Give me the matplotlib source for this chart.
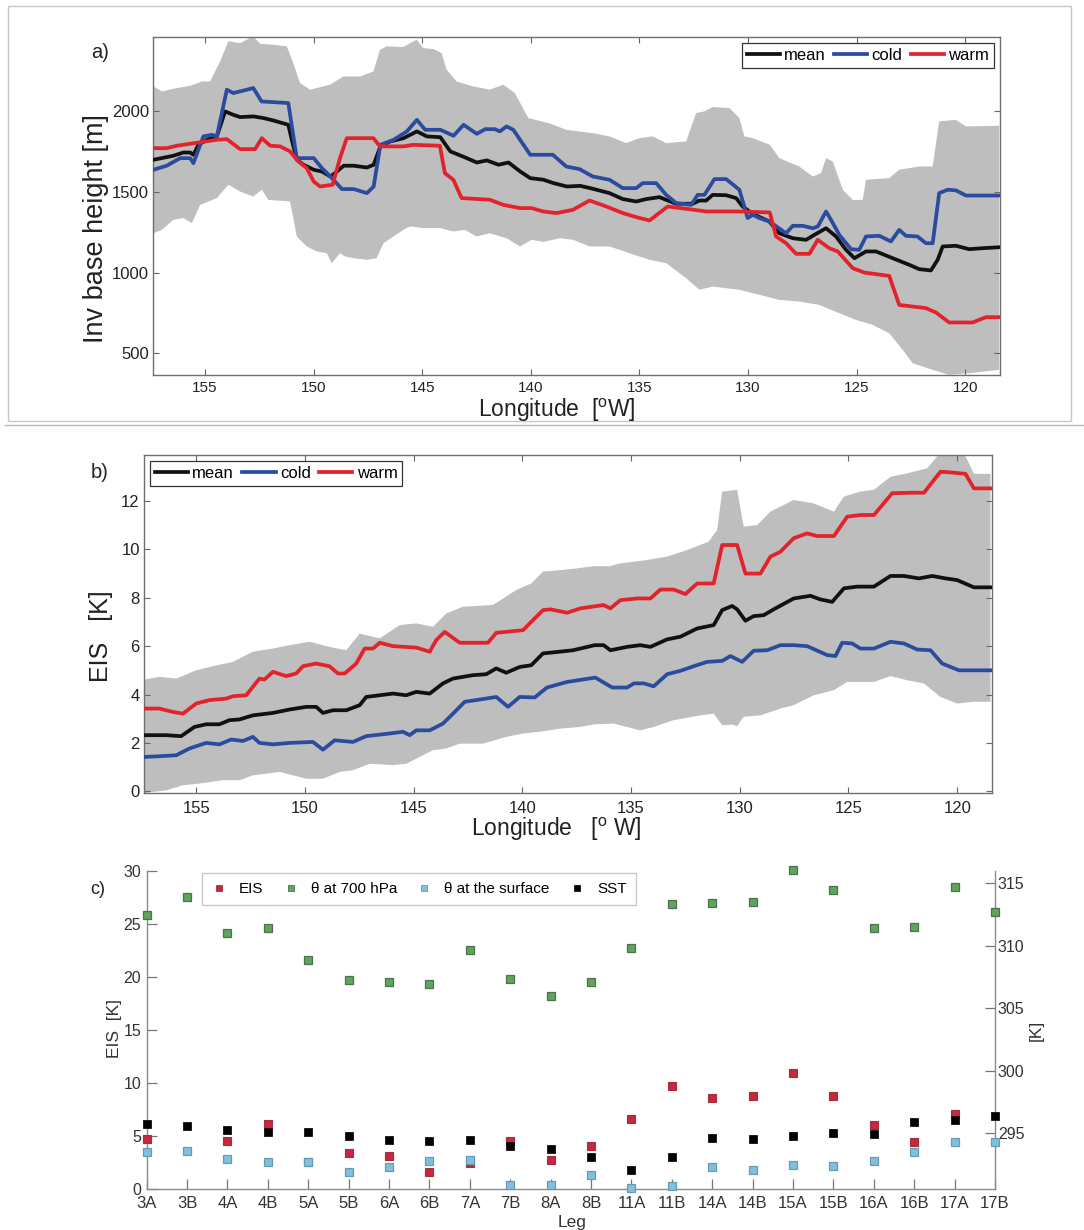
import numpy as np
import matplotlib
matplotlib.use('Agg')
import matplotlib.pyplot as plt
from matplotlib.patches import Rectangle
from matplotlib.lines import Line2D

plt.rcParams['font.family'] = ['Liberation Sans', 'DejaVu Sans']
plt.rcParams['mathtext.fontset'] = 'custom'
plt.rcParams['mathtext.rm'] = 'Liberation Sans'
plt.rcParams['mathtext.it'] = 'Liberation Sans:italic'
plt.rcParams['mathtext.bf'] = 'Liberation Sans:bold'

# ---------------- Panel a: inversion base height [m] ----------------
a_mean_lon = [157.38, 156.46, 156.00, 155.69, 155.54, 155.31, 154.92, 154.46, 154.08, 153.70,
              153.39, 152.78, 152.32, 151.86, 151.17, 151.01, 150.78, 150.47, 150.00, 149.62,
              149.23, 148.93, 148.62, 148.16, 147.55, 147.24, 146.93, 146.47, 145.86, 145.25,
              144.79, 144.17, 143.71, 142.95, 142.49, 142.03, 141.49, 141.03, 140.49, 140.03,
              139.42, 138.96, 138.34, 137.73, 137.27, 136.38, 135.77, 135.15, 134.69, 134.08,
              133.77, 133.31, 132.55, 132.24, 131.93, 131.63, 131.01, 130.55, 130.25, 129.79,
              129.02, 128.56, 127.94, 127.33, 126.87, 126.41, 125.95, 125.49, 125.10, 124.57,
              124.11, 123.34, 122.58, 122.12, 121.58, 121.27, 121.04, 120.43, 119.82, 119.20,
              118.44]
a_mean = [1700, 1725, 1745, 1745, 1731, 1793, 1824, 1845, 2000, 1979,
          1965, 1969, 1959, 1944, 1917, 1824, 1700, 1669, 1638, 1627,
          1596, 1627, 1663, 1663, 1652, 1669, 1783, 1814, 1834, 1876,
          1845, 1840, 1752, 1710, 1683, 1696, 1669, 1683, 1627, 1586,
          1576, 1555, 1534, 1538, 1524, 1493, 1456, 1441, 1456, 1468,
          1451, 1427, 1427, 1447, 1447, 1482, 1480, 1462, 1410, 1364,
          1317, 1244, 1213, 1203, 1240, 1275, 1224, 1141, 1089, 1131,
          1131, 1089, 1048, 1021, 1013, 1079, 1162, 1166, 1145, 1151,
          1157]

a_cold_lon = [157.38, 156.77, 156.15, 155.69, 155.54, 155.08, 154.69, 154.46, 154.00, 153.70,
              152.78, 152.40, 151.17, 150.78, 150.32, 150.00, 149.62, 149.23, 148.70, 148.16,
              147.55, 147.24, 146.93, 146.32, 145.71, 145.25, 144.87, 144.17, 143.56, 143.10,
              142.49, 142.10, 141.66, 141.43, 141.12, 140.81, 140.03, 138.99, 138.37, 137.76,
              137.15, 136.38, 135.77, 135.15, 134.85, 134.23, 133.77, 133.31, 132.62, 132.32,
              132.01, 131.55, 131.01, 130.40, 130.02, 129.79, 129.48, 129.02, 128.25, 127.94,
              127.48, 127.02, 126.79, 126.41, 126.18, 125.80, 125.26, 124.88, 124.57, 123.96,
              123.42, 123.04, 122.73, 122.20, 121.81, 121.50, 121.20, 120.81, 120.43, 119.97,
              118.44]
a_cold = [1638, 1663, 1710, 1710, 1679, 1845, 1855, 1845, 2135, 2114,
          2145, 2062, 2052, 1710, 1710, 1710, 1648, 1596, 1518, 1518,
          1493, 1534, 1793, 1824, 1876, 1948, 1886, 1886, 1849, 1917,
          1861, 1890, 1890, 1876, 1907, 1886, 1731, 1731, 1658, 1642,
          1596, 1576, 1524, 1524, 1555, 1555, 1482, 1431, 1420, 1482,
          1482, 1580, 1580, 1514, 1338, 1358, 1338, 1317, 1244, 1290,
          1290, 1275, 1286, 1379, 1327, 1234, 1145, 1141, 1224, 1228,
          1193, 1265, 1228, 1224, 1182, 1182, 1493, 1514, 1510, 1478,
          1478]

a_warm_lon = [157.38, 156.77, 156.30, 155.31, 154.46, 154.00, 153.39, 152.70, 152.39, 152.00,
              151.55, 151.09, 150.71, 150.32, 150.00, 149.71, 149.13, 148.79, 148.48, 147.25,
              146.95, 145.87, 145.41, 144.19, 143.96, 143.57, 143.19, 141.89, 141.27, 140.50,
              139.97, 139.43, 138.83, 138.07, 137.30, 136.53, 135.77, 135.15, 134.54, 133.70,
              132.70, 131.93, 130.40, 129.00, 128.71, 128.25, 127.79, 127.18, 126.79, 126.26,
              125.87, 125.18, 124.65, 123.50, 123.04, 121.81, 121.35, 120.74, 119.66, 119.05,
              118.44]
a_warm = [1772, 1772, 1787, 1807, 1824, 1828, 1766, 1766, 1834, 1787,
          1783, 1752, 1690, 1648, 1565, 1534, 1545, 1710, 1834, 1834,
          1783, 1783, 1793, 1787, 1617, 1576, 1462, 1452, 1420, 1400,
          1400, 1379, 1369, 1389, 1447, 1410, 1369, 1344, 1323, 1410,
          1393, 1379, 1379, 1373, 1224, 1182, 1116, 1116, 1203, 1151,
          1131, 1027, 1000, 979, 799, 779, 752, 690, 690, 723,
          723]

a_hi_lon = [157.38, 156.99, 156.30, 155.69, 155.15, 154.77, 154.31, 153.93, 153.39, 153.08,
            152.78, 152.47, 151.86, 151.24, 150.94, 150.63, 150.17, 149.25, 148.63, 147.86,
            147.25, 146.95, 146.64, 145.87, 145.26, 144.95, 144.49, 144.11, 143.88, 143.42,
            142.65, 141.89, 141.27, 140.74, 140.12, 139.13, 138.37, 137.15, 136.38, 135.61,
            135.00, 134.39, 133.77, 132.85, 132.39, 132.01, 131.63, 130.86, 130.40, 130.17,
            129.79, 129.00, 128.56, 127.64, 127.02, 126.64, 126.41, 126.10, 125.64, 125.18,
            124.72, 124.57, 123.50, 123.04, 122.58, 122.12, 121.50, 121.20, 120.43, 119.97,
            118.44]
a_hi = [2155, 2124, 2145, 2159, 2186, 2186, 2310, 2435, 2424, 2445,
        2466, 2420, 2414, 2404, 2300, 2176, 2135, 2166, 2217, 2217,
        2248, 2383, 2404, 2400, 2445, 2393, 2387, 2362, 2259, 2186,
        2155, 2135, 2166, 2114, 1959, 1925, 1886, 1865, 1845, 1803,
        1834, 1845, 1803, 1814, 1990, 2000, 2027, 2021, 1959, 1845,
        1834, 1793, 1710, 1658, 1596, 1617, 1710, 1690, 1514, 1451,
        1451, 1576, 1586, 1638, 1648, 1658, 1658, 1938, 1948, 1907,
        1911]

a_lo_lon = [157.38, 156.99, 156.46, 156.00, 155.61, 155.23, 154.46, 153.93, 153.39, 152.78,
            152.39, 152.09, 151.09, 150.94, 150.78, 150.32, 149.86, 149.40, 149.17, 148.79,
            148.56, 148.17, 147.56, 147.10, 146.79, 145.87, 145.57, 144.95, 144.19, 143.57,
            143.04, 142.50, 141.89, 141.12, 140.50, 139.97, 139.43, 138.67, 138.05, 137.30,
            136.38, 135.46, 134.54, 133.77, 132.85, 132.24, 131.63, 130.40, 129.48, 128.56,
            127.64, 126.72, 125.80, 125.03, 124.26, 123.50, 122.88, 122.42, 121.50, 120.74,
            119.82, 118.44]
a_lo = [1244, 1265, 1327, 1338, 1307, 1420, 1462, 1545, 1503, 1472,
        1514, 1451, 1441, 1338, 1224, 1162, 1131, 1120, 1058, 1120,
        1100, 1089, 1079, 1089, 1182, 1265, 1286, 1276, 1276, 1255,
        1265, 1224, 1244, 1213, 1162, 1203, 1190, 1213, 1203, 1162,
        1162, 1120, 1079, 1058, 965, 893, 913, 893, 862, 830,
        820, 799, 748, 706, 675, 623, 520, 437, 396, 365,
        375, 396]

# ---------------- Panel b: EIS [K] ----------------
b_mean_lon = [157.38, 156.38, 155.69, 155.08, 154.54, 153.93, 153.47, 153.01, 152.39, 151.47,
              150.71, 149.94, 149.48, 149.17, 148.71, 148.10, 147.48, 147.18, 146.56, 145.95,
              145.34, 144.88, 144.26, 143.65, 143.19, 142.27, 141.66, 141.20, 140.74, 140.12,
              139.59, 139.05, 138.28, 137.67, 136.67, 136.26, 135.95, 135.18, 134.57, 134.11,
              133.34, 132.73, 131.96, 131.20, 130.81, 130.35, 130.12, 129.74, 129.36, 128.90,
              128.44, 127.52, 126.75, 126.29, 125.75, 125.21, 124.60, 123.83, 123.07, 122.45,
              121.76, 121.15, 120.54, 120.00, 119.23, 118.47]
b_mean = [2.32, 2.32, 2.28, 2.66, 2.77, 2.77, 2.94, 2.97, 3.14, 3.24,
          3.38, 3.49, 3.49, 3.24, 3.35, 3.35, 3.56, 3.90, 3.97, 4.04,
          3.97, 4.11, 4.04, 4.46, 4.66, 4.80, 4.84, 5.08, 4.90, 5.14,
          5.21, 5.70, 5.77, 5.83, 6.04, 6.04, 5.83, 5.97, 6.04, 5.97,
          6.28, 6.39, 6.73, 6.87, 7.49, 7.66, 7.52, 7.05, 7.24, 7.28,
          7.52, 7.97, 8.08, 7.93, 7.83, 8.39, 8.46, 8.46, 8.90, 8.90,
          8.80, 8.90, 8.80, 8.73, 8.43, 8.43]

b_cold_lon = [157.38, 156.69, 155.92, 155.31, 154.54, 153.93, 153.39, 152.85, 152.39, 152.09,
              151.47, 150.71, 149.63, 149.17, 148.63, 147.79, 147.18, 146.10, 145.49, 145.18,
              144.88, 144.26, 143.65, 143.11, 142.65, 142.12, 141.20, 140.66, 140.12, 139.43,
              138.87, 137.94, 136.64, 135.87, 135.18, 134.87, 134.41, 133.96, 133.34, 132.73,
              132.12, 131.50, 130.81, 130.43, 129.89, 129.36, 128.74, 128.13, 127.52, 126.90,
              125.98, 125.60, 125.29, 124.83, 124.45, 123.83, 123.07, 122.45, 121.84, 121.23,
              120.69, 119.92, 118.47]
b_cold = [1.42, 1.45, 1.49, 1.77, 2.00, 1.94, 2.14, 2.08, 2.25, 2.00,
          1.94, 2.00, 2.04, 1.72, 2.11, 2.04, 2.28, 2.39, 2.46, 2.32,
          2.52, 2.52, 2.80, 3.28, 3.70, 3.77, 3.90, 3.49, 3.90, 3.88,
          4.29, 4.52, 4.70, 4.29, 4.29, 4.46, 4.46, 4.34, 4.84, 4.98,
          5.17, 5.35, 5.39, 5.59, 5.35, 5.81, 5.83, 6.04, 6.04, 6.00,
          5.63, 5.59, 6.14, 6.11, 5.90, 5.90, 6.18, 6.11, 5.86, 5.83,
          5.28, 5.00, 5.00]

b_warm_lon = [157.38, 156.69, 156.07, 155.61, 155.00, 154.39, 153.62, 153.31, 152.70, 152.09,
              151.86, 151.47, 150.86, 150.40, 150.09, 149.48, 148.87, 148.48, 148.17, 147.64,
              147.25, 146.87, 146.56, 145.95, 144.88, 144.26, 143.96, 143.57, 142.88, 141.58,
              141.20, 139.97, 139.05, 138.71, 137.94, 137.33, 136.26, 135.95, 135.49, 134.72,
              134.11, 133.65, 133.04, 132.50, 131.96, 131.20, 130.81, 130.12, 129.74, 129.05,
              128.59, 128.13, 127.52, 126.90, 126.44, 125.67, 125.06, 124.45, 123.83, 122.99,
              122.15, 121.53, 120.77, 120.15, 119.62, 119.23, 118.47]
b_warm = [3.42, 3.42, 3.28, 3.21, 3.63, 3.77, 3.83, 3.93, 3.97, 4.66,
          4.62, 4.94, 4.76, 4.87, 5.17, 5.28, 5.17, 4.87, 4.87, 5.28,
          5.90, 5.90, 6.14, 6.00, 5.94, 5.77, 6.25, 6.59, 6.14, 6.14,
          6.55, 6.66, 7.49, 7.52, 7.38, 7.56, 7.70, 7.56, 7.90, 7.97,
          7.97, 8.34, 8.34, 8.15, 8.59, 8.59, 10.18, 10.18, 9.00, 9.00,
          9.70, 9.90, 10.46, 10.66, 10.55, 10.55, 11.35, 11.42, 11.42, 12.32,
          12.34, 12.34, 13.21, 13.17, 13.12, 12.52, 12.52]

b_hi_lon = [157.38, 156.69, 155.92, 155.00, 154.23, 153.31, 152.39, 151.47, 150.71, 149.79,
            148.87, 148.10, 147.48, 146.56, 145.64, 144.88, 144.11, 143.50, 142.73, 141.35,
            140.28, 139.59, 139.05, 138.28, 137.52, 136.67, 136.00, 135.49, 134.26, 133.34,
            132.42, 131.43, 131.04, 130.81, 130.12, 129.82, 129.20, 128.59, 127.52, 126.60,
            125.67, 125.21, 124.45, 123.83, 123.07, 122.30, 121.38, 120.77, 119.70, 119.23,
            118.47]
b_hi = [4.62, 4.73, 4.66, 5.00, 5.17, 5.35, 5.77, 5.90, 6.04, 6.18,
        5.97, 5.83, 6.52, 6.32, 6.87, 6.94, 6.80, 7.35, 7.63, 7.70,
        8.32, 8.59, 9.08, 9.14, 9.21, 9.31, 9.30, 9.42, 9.56, 9.70,
        9.97, 10.32, 10.80, 12.39, 12.46, 10.94, 11.00, 11.56, 12.04, 11.90,
        11.56, 12.18, 12.39, 12.46, 13.00, 13.14, 13.35, 14.00, 14.00, 13.12,
        13.12]

b_lo_lon = [157.38, 156.38, 155.61, 154.85, 153.77, 153.00, 152.39, 151.17, 149.94, 149.17,
            148.40, 147.79, 147.02, 145.95, 145.34, 144.72, 144.11, 143.50, 142.88, 141.81,
            140.74, 139.97, 139.20, 138.28, 137.36, 136.67, 135.80, 134.57, 133.96, 133.04,
            131.81, 131.20, 130.81, 130.35, 130.12, 129.82, 129.05, 128.13, 127.52, 126.60,
            125.67, 125.06, 123.83, 123.07, 122.30, 121.53, 120.77, 120.00, 119.23, 118.47]
b_lo = [-0.07, 0.04, 0.25, 0.32, 0.46, 0.46, 0.66, 0.80, 0.52, 0.52,
        0.80, 0.87, 1.14, 1.08, 1.14, 1.42, 1.70, 1.77, 1.97, 1.97,
        2.25, 2.39, 2.46, 2.59, 2.66, 2.77, 2.80, 2.52, 2.66, 2.94,
        3.14, 3.21, 2.73, 2.76, 2.69, 3.08, 3.14, 3.42, 3.56, 3.97,
        4.18, 4.52, 4.52, 4.76, 4.59, 4.46, 3.90, 3.63, 3.70, 3.70]

# ---------------- Panel c: per-leg values ----------------
legs = ['3A', '3B', '4A', '4B', '5A', '5B', '6A', '6B', '7A', '7B', '8A', '8B',
        '11A', '11B', '14A', '14B', '15A', '15B', '16A', '16B', '17A', '17B']
c_eis = [4.71, np.nan, 4.58, 6.15, 2.55, 3.39, 3.14, 1.60, 2.45, 4.55, 2.76, 4.11,
         6.63, 9.74, 8.60, 8.79, 10.99, 8.77, 6.06, 4.46, 7.10, np.nan]
c_theta700 = [312.45, 313.95, 311.00, 311.40, 308.90, 307.26, 307.07, 306.93, 309.64, 307.34,
              305.95, 307.07, 309.86, 313.36, 313.47, 313.55, 316.05, 314.44, 311.40, 311.54,
              314.68, 312.75]
c_theta_sfc = [293.52, 293.60, 292.91, 292.67, 292.69, 291.87, 292.27, 292.77, 292.88, 290.85,
               290.85, 291.67, 290.63, 290.77, 292.27, 292.07, 292.48, 292.40, 292.77, 293.52,
               294.32, 294.28]
c_sst = [295.72, 295.56, 295.29, 295.08, 295.08, 294.73, 294.46, 294.40, 294.43, 293.98,
         293.71, 293.07, 292.05, 293.10, 294.62, 294.56, 294.73, 295.02, 294.94, 295.88,
         296.07, 296.36]

lon_ticks = [155, 150, 145, 140, 135, 130, 125, 120]

# ---------------- figure ----------------
W, H = 1084, 1230
fig = plt.figure(figsize=(W / 100, H / 100), dpi=100)
fig.patch.set_facecolor('white')


def fbox(x0, y0, x1, y1):
    return [x0 / W, 1 - y1 / H, (x1 - x0) / W, (y1 - y0) / H]


C_BAND = '#bebebe'
C_MEAN = '#111111'
C_COLD = '#2b4c9e'
C_WARM = '#e3232c'
SPINE = '#6f6f6f'


def band(ax, lon_hi, hi, lon_lo, lo):
    xs = np.concatenate([np.asarray(lon_hi), np.asarray(lon_lo)[::-1]])
    ys = np.concatenate([np.asarray(hi), np.asarray(lo)[::-1]])
    ax.fill(xs, ys, color=C_BAND, lw=0, zorder=1)


def style_lon(ax, xsize, xpad):
    ax.set_xlim(157.4, 118.4)
    ax.set_xticks(lon_ticks)
    ax.tick_params(direction='in', top=True, right=True, length=4, width=0.8,
                   color='#666666', labelcolor='#222222', labelsize=12)
    ax.tick_params(axis='x', pad=xpad, labelsize=xsize)
    ax.tick_params(axis='y', pad=3)
    for s in ax.spines.values():
        s.set_color(SPINE)
        s.set_linewidth(1.0)


LW = 2.7

# Panel a
axa = fig.add_axes(fbox(153, 37, 1000, 375))
band(axa, a_hi_lon, a_hi, a_lo_lon, a_lo)
axa.plot(a_mean_lon, a_mean, color=C_MEAN, lw=LW, zorder=3, label='mean')
axa.plot(a_cold_lon, a_cold, color=C_COLD, lw=LW, zorder=3, label='cold')
axa.plot(a_warm_lon, a_warm, color=C_WARM, lw=LW, zorder=3, label='warm')
style_lon(axa, 11, 4.5)
axa.set_ylim(364, 2462)
axa.set_yticks([500, 1000, 1500, 2000])
leg = axa.legend(loc='upper right', ncol=3, fontsize=12, frameon=True, fancybox=False,
                 handlelength=2.0, handletextpad=0.25, columnspacing=0.5,
                 borderpad=0.3, borderaxespad=0.35, framealpha=1)
leg.get_frame().set_edgecolor('#333333')
leg.get_frame().set_linewidth(0.9)

# Panel b
axb = fig.add_axes(fbox(144, 455, 992, 793))
band(axb, b_hi_lon, b_hi, b_lo_lon, b_lo)
axb.plot(b_mean_lon, b_mean, color=C_MEAN, lw=LW, zorder=3, label='mean')
axb.plot(b_cold_lon, b_cold, color=C_COLD, lw=LW, zorder=3, label='cold')
axb.plot(b_warm_lon, b_warm, color=C_WARM, lw=LW, zorder=3, label='warm')
style_lon(axb, 12, 6)
axb.set_ylim(-0.07, 13.9)
axb.set_yticks([0, 2, 4, 6, 8, 10, 12])
leg = axb.legend(loc='upper left', ncol=3, fontsize=12, frameon=True, fancybox=False,
                 handlelength=2.0, handletextpad=0.25, columnspacing=0.5,
                 borderpad=0.3, borderaxespad=0.35, framealpha=1)
leg.get_frame().set_edgecolor('#333333')
leg.get_frame().set_linewidth(0.9)

# Panel c
axc = fig.add_axes(fbox(146.7, 871, 995, 1189.3))
axc2 = axc.twinx()
xi = np.arange(len(legs))
ms = 5.6
axc.plot(xi, c_eis, 's', ms=ms, mfc='#c8283e', mec='#a03040', mew=0.8, clip_on=False, zorder=3)
axc2.plot(xi, c_theta700, 's', ms=ms, mfc='#5fa55a', mec='#4f6f50', mew=0.9, clip_on=False, zorder=3)
axc2.plot(xi, c_theta_sfc, 's', ms=ms, mfc='#7fc0dc', mec='#6a9ab0', mew=0.9, clip_on=False, zorder=3)
axc2.plot(xi, c_sst, 's', ms=ms, mfc='#000000', mec='#111111', mew=0.6, clip_on=False, zorder=4)
axc.set_xlim(0, len(legs) - 1)
axc.set_ylim(0, 30)
axc.set_yticks([0, 5, 10, 15, 20, 25, 30])
axc.set_xticks(xi)
axc.set_xticklabels(legs)
axc2.set_ylim(290.5, 316.0)
axc2.set_yticks([295, 300, 305, 310, 315])
for a in (axc, axc2):
    a.spines['top'].set_visible(False)
    for s in a.spines.values():
        s.set_color('#8a8a8a')
        s.set_linewidth(1.0)
axc.spines['right'].set_visible(False)
axc2.spines['left'].set_visible(False)
axc2.spines['bottom'].set_visible(False)
axc.tick_params(direction='in', length=7, width=0.9, color='#777777',
                labelcolor='#333333', labelsize=12)
axc.tick_params(axis='x', pad=5)
axc.tick_params(axis='y', pad=4, labelsize=11.5)
axc2.tick_params(direction='in', length=7, width=0.9, color='#777777',
                 labelcolor='#333333', labelsize=11.5, pad=2)

handles = [
    Line2D([], [], ls='none', marker='s', ms=4.2, mfc='#c8283e', mec='#a03040', mew=0.6),
    Line2D([], [], ls='none', marker='s', ms=4.2, mfc='#5fa55a', mec='#4f6f50', mew=0.6),
    Line2D([], [], ls='none', marker='s', ms=4.2, mfc='#7fc0dc', mec='#6a9ab0', mew=0.6),
    Line2D([], [], ls='none', marker='s', ms=4.2, mfc='#000000', mec='#111111', mew=0.6),
]
labels = ['EIS', '\u03b8 at 700 hPa', '\u03b8 at the surface', 'SST']
legc = fig.legend(handles, labels, loc='upper left', bbox_to_anchor=(202 / W, 1 - 873 / H),
                  bbox_transform=fig.transFigure, ncol=4, fontsize=11, frameon=True,
                  fancybox=False, handlelength=1.0, handletextpad=0.8, columnspacing=1.3,
                  borderpad=0.6, borderaxespad=0, framealpha=1)
legc.get_frame().set_edgecolor('#c8c8c8')
legc.get_frame().set_linewidth(1.0)

# ---------------- texts ----------------
fig.text(100 / W, 1 - 53 / H, 'a)', fontsize=14.5, ha='center', va='center', color='#222222')
fig.text(100 / W, 1 - 472 / H, 'b)', fontsize=14.5, ha='center', va='center', color='#222222')
fig.text(98 / W, 1 - 890 / H, 'c)', fontsize=13, ha='center', va='center', color='#222222')

fig.text(96 / W, 1 - 229 / H, 'Inv base height [m]', fontsize=19.5, rotation=90,
         ha='center', va='center', color='#222222')
fig.text(101 / W, 1 - 636 / H, 'EIS   [K]', fontsize=18, rotation=90,
         ha='center', va='center', color='#222222')
fig.text(557 / W, 1 - 417 / H, 'Longitude  [$^{\\mathrm{o}}$W]', fontsize=16.5,
         ha='center', va='baseline', color='#222222')
fig.text(556 / W, 1 - 836 / H, 'Longitude   [$^{\\mathrm{o}}$ W]', fontsize=16.5,
         ha='center', va='baseline', color='#222222')
fig.text(114 / W, 1 - 1029 / H, 'EIS  [K]', fontsize=12.5, rotation=90,
         ha='center', va='center', color='#333333')
fig.text(1036 / W, 1 - 1030 / H, '[K]', fontsize=12.5, rotation=90,
         ha='center', va='center', color='#333333')
fig.text(572 / W, 1 - 1222 / H, 'Leg', fontsize=12.5, ha='center', va='center', color='#333333')

# frame around panel a and separator
fig.add_artist(Rectangle((8 / W, 1 - 421 / H), (1071 - 8) / W, (421 - 6) / H,
                         transform=fig.transFigure, fill=False, ec='#c8c8c8', lw=1.0))
fig.add_artist(Line2D([5 / W, 1.0], [1 - 425 / H, 1 - 425 / H], transform=fig.transFigure,
                      color='#b8b8b8', lw=1.0))

fig.savefig('out.png', dpi=100, facecolor='white')
